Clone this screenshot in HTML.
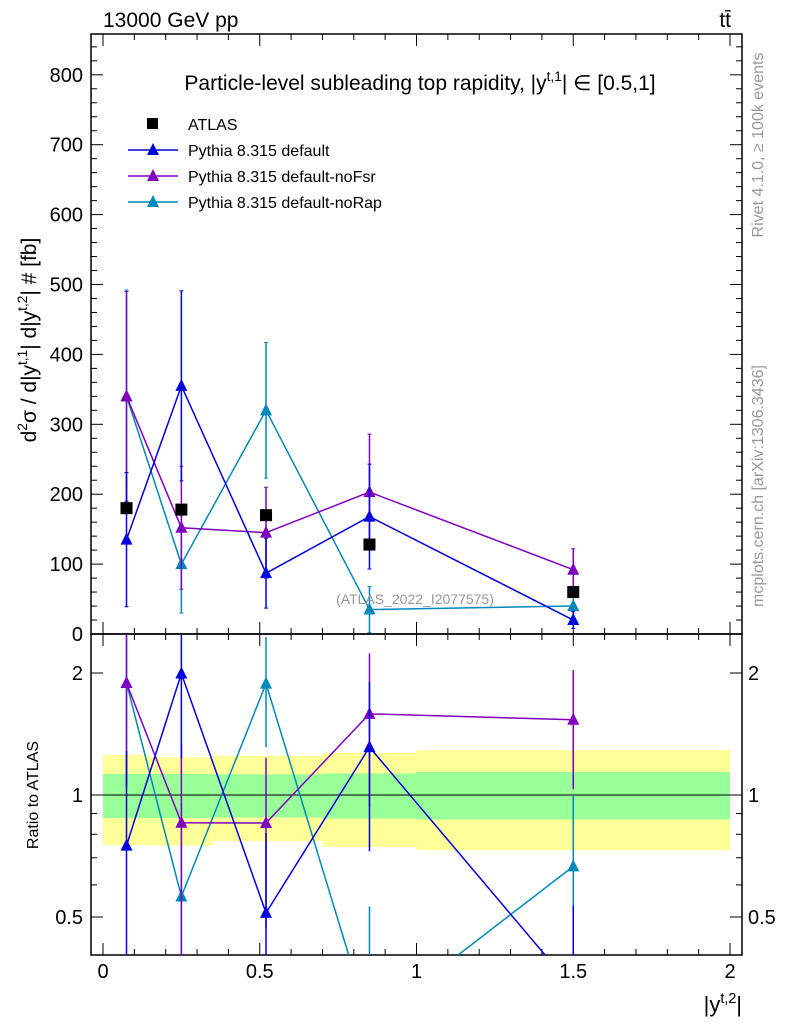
<!DOCTYPE html>
<html><head><meta charset="utf-8"><style>
body{margin:0;background:#fff;}
svg{display:block;font-family:"Liberation Sans",sans-serif;}
</style></head><body>
<svg id="c" width="786" height="1024" viewBox="0 0 786 1024"></svg>
<script>
const xVals=[0.075,0.25,0.52,0.85,1.5];
const binLo=[0,0.15,0.35,0.7,1.0];
const binHi=[0.15,0.35,0.7,1.0,2.0];
const atlas=[180,178,170,128,60];
const bandTot=[[0.753,1.255],[0.75,1.24],[0.77,1.25],[0.745,1.27],[0.73,1.29]];
const bandStat=[[0.877,1.127],[0.877,1.127],[0.88,1.125],[0.875,1.13],[0.87,1.14]];
const defVals=[135,355,87,168,20];
const defErr=[96,136,50,75,12];
const fsrVals=[340,152,145,203,92];
const fsrErr=[150,88,65,83,30];
const rapVals=[340,100,320,35,40];
const rapErr=[152,70,97,33,20];
const yTicks=[0,100,200,300,400,500,600,700,800];
const xTicks=[0,0.5,1,1.5,2];
const rTicks=[0.5,1,2];

const NS="http://www.w3.org/2000/svg";
const svg=document.getElementById('c');
function el(t,a,txt){const e=document.createElementNS(NS,t);for(const k in a)e.setAttribute(k,a[k]);if(txt!==undefined)e.textContent=txt;svg.appendChild(e);return e;}
function rich(a,parts){const e=el('text',a);parts.forEach(p=>{const s=document.createElementNS(NS,'tspan');
 if(p[1]==='sup'){s.setAttribute('dy','-9');s.setAttribute('font-size','0.65em');}
 if(p[1]==='back'){s.setAttribute('dy','9');}
 s.textContent=p[0];e.appendChild(s);});return e;}
const L=91,R=742,T1=34,B1=634,B2=955;
const X=v=>103+v*313.5;
const Y=v=>634-v*0.699;
const RY=v=>795-Math.log2(v)*122;
const clampR=v=>Math.min(B2,Math.max(B1,v));

for(let i=0;i<5;i++){
  let e=el('rect',{x:X(binLo[i]),y:RY(bandTot[i][1]),width:X(binHi[i])-X(binLo[i]),height:RY(bandTot[i][0])-RY(bandTot[i][1]),fill:'#ffff99'});
  
  
  e=el('rect',{x:X(binLo[i]),y:RY(bandStat[i][1]),width:X(binHi[i])-X(binLo[i]),height:RY(bandStat[i][0])-RY(bandStat[i][1]),fill:'#99ff99'});
  
  
}
el('line',{x1:L,x2:R,y1:RY(1),y2:RY(1),stroke:'#000','stroke-width':1});

el('rect',{x:L,y:T1,width:R-L,height:B1-T1,fill:'none',stroke:'#000','stroke-width':1.5,});
el('rect',{x:L,y:B1,width:R-L,height:B2-B1,fill:'none',stroke:'#000','stroke-width':1.5,});

for(let v=0;v<=850;v+=20){const y=Y(v);if(y<T1)break;const len=v%100===0?12:6;
 el('line',{x1:L,x2:L+len,y1:y,y2:y,stroke:'#000'});el('line',{x1:R,x2:R-len,y1:y,y2:y,stroke:'#000'});}
yTicks.forEach(v=>{const t=el('text',{x:L-8,y:Y(v)+7,'text-anchor':'end','font-size':20},v);
 });
for(let k=0;k<=20;k++){const v=k/10,x=X(v),len=k%5===0?12:6;
 [B1,B2].forEach(b=>{el('line',{x1:x,x2:x,y1:b,y2:b-len,stroke:'#000'});});
 el('line',{x1:x,x2:x,y1:B1,y2:B1+len,stroke:'#000'});
 el('line',{x1:x,x2:x,y1:T1,y2:T1+len,stroke:'#000'});}
xTicks.forEach(v=>{const t=el('text',{x:X(v),y:978,'text-anchor':'middle','font-size':20},String(v));
 });
[0.4,0.5,0.6,0.7,0.8,0.9,1,2].forEach(v=>{const y=RY(v);if(y>B2||y<B1)return;const len=rTicks.includes(v)?12:6;
 el('line',{x1:L,x2:L+len,y1:y,y2:y,stroke:'#000'});el('line',{x1:R,x2:R-len,y1:y,y2:y,stroke:'#000'});});
rTicks.forEach(v=>{let t=el('text',{x:L-8,y:RY(v)+7,'text-anchor':'end','font-size':20},String(v));
 
 t=el('text',{x:R+6,y:RY(v)+7,'font-size':20},String(v));
 });

function tri(x,y,c){return el('polygon',{points:`${x},${y-7} ${x-6},${y+5} ${x+6},${y+5}`,fill:c});}
function drawSeries(vals,errs,c,name){
 let pts=vals.map((v,i)=>X(xVals[i])+','+Y(v)).join(' ');
 let p=el('polyline',{points:pts,fill:'none',stroke:c,'stroke-width':1.5});
 
 vals.forEach((v,i)=>{const x=X(xVals[i]);
  const y1=Math.max(T1,Y(v+errs[i])),y2=Math.min(B1,Y(v-errs[i]));
  el('line',{x1:x,x2:x,y1:y1,y2:y2,stroke:c,'stroke-width':1.5});
  el('line',{x1:x-2,x2:x+2,y1:y1,y2:y1,stroke:c});el('line',{x1:x-2,x2:x+2,y1:y2,y2:y2,stroke:c});
  const t=tri(x,Y(v),c);});
 const rv=vals.map((v,i)=>v/atlas[i]);
 const cp=el('clipPath',{id:'cl'+name});const r=document.createElementNS(NS,'rect');
 r.setAttribute('x',L);r.setAttribute('y',B1);r.setAttribute('width',R-L);r.setAttribute('height',B2-B1);cp.appendChild(r);
 const g=el('g',{'clip-path':`url(#cl${name})`});
 const rl=document.createElementNS(NS,'polyline');
 rl.setAttribute('points',rv.map((v,i)=>X(xVals[i])+','+RY(v)).join(' '));
 rl.setAttribute('fill','none');rl.setAttribute('stroke',c);rl.setAttribute('stroke-width',1.5);
 
 
 g.appendChild(rl);
 rv.forEach((v,i)=>{const x=X(xVals[i]);const e=errs[i]/atlas[i];
  const y1=clampR(RY(v+e)),y2=clampR(v-e>0.01?RY(v-e):B2);
  el('line',{x1:x,x2:x,y1:y1,y2:y2,stroke:c,'stroke-width':1.5});
  const yy=RY(v);if(yy>=B1&&yy<=B2){const t=tri(x,yy,c);}});
}
drawSeries(rapVals,rapErr,'#0088bb','norap');
drawSeries(fsrVals,fsrErr,'#8000c0','nofsr');
drawSeries(defVals,defErr,'#0000dd','default');
atlas.forEach((v,i)=>{const r=el('rect',{x:X(xVals[i])-6,y:Y(v)-6,width:12,height:12,fill:'#000'});
 });

el('text',{x:103,y:27,'font-size':21,},'13000 GeV pp');
el('text',{x:731,y:27,'font-size':21,'text-anchor':'end',},'tt̄');
rich({x:420,y:90,'font-size':21,'text-anchor':'middle',},
 [['Particle-level subleading top rapidity, |y'],['t,1','sup'],['| ∈ [0.5,1]','back']]);
el('text',{x:415,y:604,'font-size':14,fill:'#999','text-anchor':'middle',},'(ATLAS_2022_I2077575)');
rich({x:742,y:1012,'font-size':22,'text-anchor':'end',},
 [['|y'],['t,2','sup'],['|','back']]);
rich({x:0,y:0,'font-size':21,'text-anchor':'middle',transform:'translate(36,340) rotate(-90)',},
 [['d'],['2','sup'],['σ / d|y','back'],['t,1','sup'],['| d|y','back'],['t,2','sup'],['| # [fb]','back']]);
el('text',{x:0,y:0,'font-size':16,'text-anchor':'middle',transform:'translate(38,795) rotate(-90)',},'Ratio to ATLAS');
el('text',{x:0,y:0,'font-size':16,fill:'#999','text-anchor':'middle',transform:'translate(763,145) rotate(-90)',},'Rivet 4.1.0, ≥ 100k events');
el('text',{x:0,y:0,'font-size':16,fill:'#999','text-anchor':'middle',transform:'translate(763,486) rotate(-90)',},'mcplots.cern.ch [arXiv:1306.3436]');

const legNames=['ATLAS','Pythia 8.315 default','Pythia 8.315 default-noFsr','Pythia 8.315 default-noRap'];
const legCols=['#000','#0000dd','#8000c0','#0088bb'];
legNames.forEach((n,i)=>{const y=124+i*26;
 if(i===0){el('rect',{x:147,y:y-6,width:11,height:11,fill:'#000'});}
 else{el('line',{x1:128,x2:178,y1:y,y2:y,stroke:legCols[i],'stroke-width':1.5});tri(153,y,legCols[i]);}
 const t=el('text',{x:188,y:y+6,'font-size':16},n);
 });
</script>
</body></html>
